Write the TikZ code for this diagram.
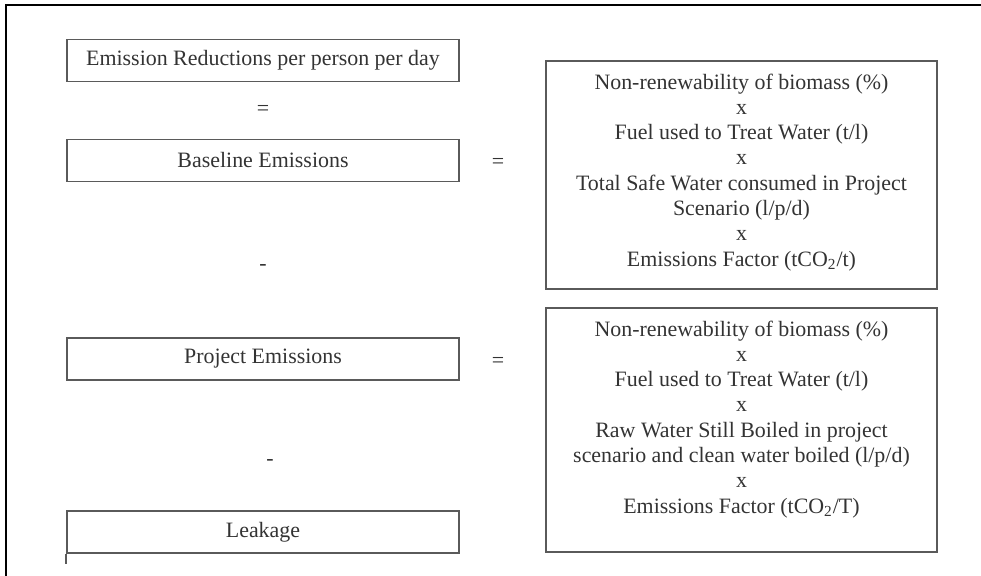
\documentclass[tikz,border=0pt]{standalone}
\usepackage{fontspec}
\setmainfont{Liberation Serif}
\usetikzlibrary{positioning}
\definecolor{ink}{HTML}{333333}
\definecolor{edge}{HTML}{5a5a5a}

\begin{document}
\begin{tikzpicture}[x=.5bp,y=-.5bp,
  termbox/.style={draw=edge,line width=.8pt,minimum width=196bp,minimum height=21bp,text=ink,font=\fontsize{11}{12.7}\selectfont},
  factorbox/.style={draw=edge,line width=.8pt,minimum width=195.5bp},
  factors/.style={align=center,inner sep=0pt,text=ink,font=\fontsize{11}{12.7}\selectfont},
  sign/.style={text=ink,font=\fontsize{11}{12.7}\selectfont}]
  \useasboundingbox (0,0) rectangle (981,576);
  \draw[line width=.9pt] (981,5)--(6,5)--(6,576);
  \node[termbox] (red) at (263,60.5) {Emission Reductions per person per day};
  \node[sign] (eqa) at (263,110) {=};
  \node[termbox] (base) at (263,160.5) {Baseline Emissions};
  \node[sign] (mina) at (263,268) {-};
  \node[termbox] (proj) at (263,359) {Project Emissions};
  \node[sign] (minb) at (270,463) {-};
  \node[termbox] (leak) at (263,532) {Leakage};
  \draw[edge,line width=.8pt] (leak.south west)--++(0,10);
  \node[sign] (eqb) at (498,163) {=};
  \node[sign] (eqc) at (498,362) {=};
  \node[factorbox,minimum height=114bp] (basef) at (741.5,175) {};
  \node[factors,below=6.5bp of basef.north] (baset) {Non-renewability of biomass (\%)\\x\\Fuel used to Treat Water (t/l)\\x\\Total Safe Water consumed in Project\\Scenario (l/p/d)\\x\\Emissions Factor (tCO\textsubscript{2}/t)};
  \node[factorbox,minimum height=122bp] (projf) at (741.5,430) {};
  \node[factors,below=6.5bp of projf.north] (projt) {Non-renewability of biomass (\%)\\x\\Fuel used to Treat Water (t/l)\\x\\Raw Water Still Boiled in project\\scenario and clean water boiled (l/p/d)\\x\\Emissions Factor (tCO\textsubscript{2}/T)};
\end{tikzpicture}
\end{document}
